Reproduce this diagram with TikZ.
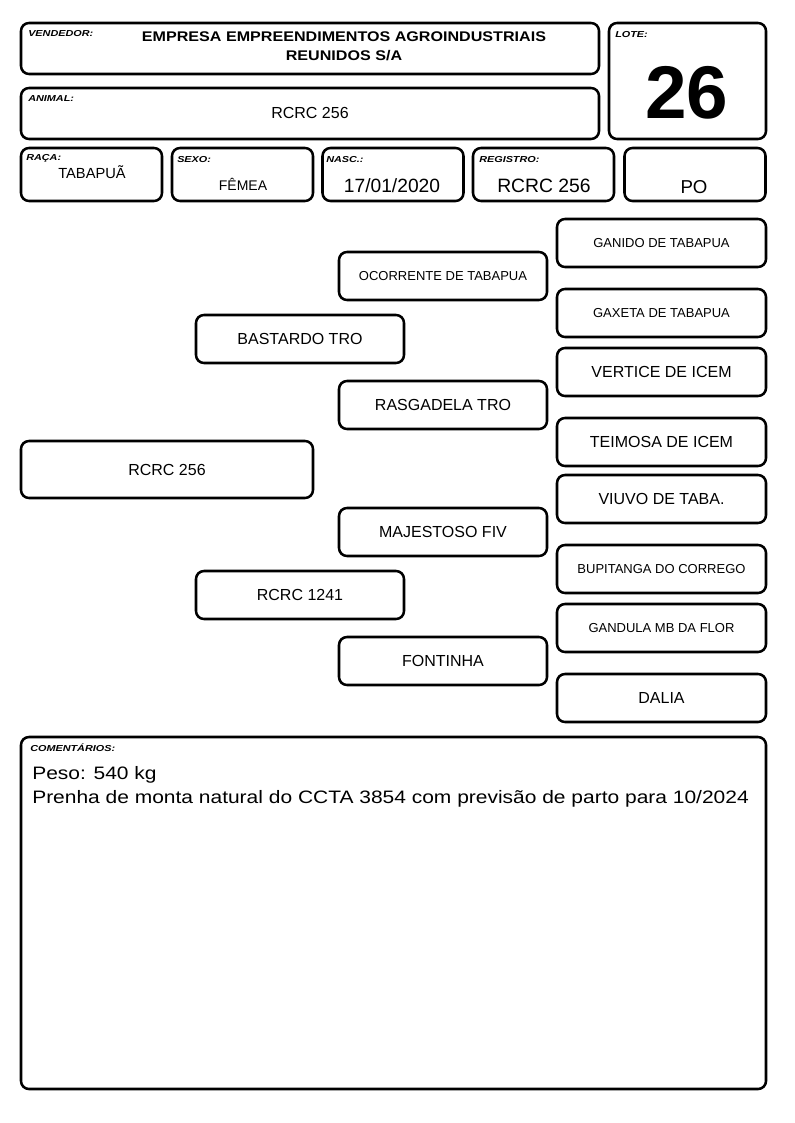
\documentclass[tikz,border=0pt]{standalone}
\usepackage{fontspec}
\setmainfont{Liberation Sans}
\newfontfamily\tagfont[FakeStretch=1.25]{Liberation Sans}
\newfontfamily\widefont[FakeStretch=1.15]{Liberation Sans}
\newfontfamily\notefont[FakeStretch=1.165]{Liberation Sans}
\usepackage{tikz}

\tikzset{
	box/.style={draw, line width=1.9pt, rounded corners=6pt, inner sep=0pt},
	tag/.style={font=\tagfont\fontsize{6.5}{7}\selectfont\bfseries\itshape, inner sep=0pt, anchor=west},
	big/.style={font=\fontsize{12}{14}\selectfont},
	small/.style={font=\fontsize{9.75}{11}\selectfont},
	genone/.style={box, big, minimum width=219pt, minimum height=42.75pt},
	gentwo/.style={box, minimum width=156pt, minimum height=36pt},
	genfour/.style={box, minimum width=156.75pt, minimum height=36pt}
}

\begin{document}
\begin{tikzpicture}[x=0.75pt, y=-0.75pt] % one unit = one pixel, y downwards
	\useasboundingbox (0,0) rectangle (794,1123);
	
	% Header boxes
	\node[box, minimum width=433.5pt, minimum height=38.25pt] (vendedor) at (310,48.5) {};
	\node[box, minimum width=117.75pt, minimum height=87pt] (lote) at (687.5,81) {};
	\node[box, minimum width=433.5pt, minimum height=38.25pt] (animal) at (310,113.5) {};
	\foreach \n/\x in {raca/91.5, sexo/242.5, nasc/393, registro/543.5, po/695}
	\node[box, minimum width=105.75pt, minimum height=39.75pt] (\n) at (\x,174.5) {};
	
	% Labels of the header
	\node[tag] (vendedortag) at (28,34) {VENDEDOR:};
	\node[tag] (lotetag) at (615,35) {LOTE:};
	\node[tag] (animaltag) at (28,99) {ANIMAL:};
	\node[tag] (racatag) at (26,158) {RAÇA:};
	\node[tag] (sexotag) at (177,160) {SEXO:};
	\node[tag] (nasctag) at (326,160) {NASC.:};
	\node[tag] (registrotag) at (479,160) {REGISTRO:};
	
	% Values of the header
	\node[align=center, font=\widefont\fontsize{10.5}{14}\selectfont\bfseries] (vendedortext) at (344,46.5)
	{EMPRESA EMPREENDIMENTOS AGROINDUSTRIAIS\\REUNIDOS S/A};
	\node[font=\fontsize{56}{60}\selectfont\bfseries] (lotetext) at (687,93) {26};
	\node[font=\fontsize{12}{14}\selectfont] (animaltext) at (310,113) {RCRC 256};
	\node[font=\fontsize{11}{12}\selectfont] (racatext) at (92,172) {TABAPUÃ};
	\node[font=\fontsize{10.5}{12}\selectfont] (sexotext) at (243,184) {FÊMEA};
	\node[font=\fontsize{14.4}{16}\selectfont] (nasctext) at (392,186) {17/01/2020};
	\node[font=\fontsize{14.5}{16}\selectfont] (registrotext) at (544,186) {RCRC 256};
	\node[font=\fontsize{14}{16}\selectfont] (potext) at (694,187) {PO};
	
	% Pedigree
	\node[genone] (animalped) at (167,469.5) {RCRC 256};
	\node[gentwo, big] (pai) at (300,339) {BASTARDO TRO};
	\node[gentwo, big] (mae) at (300,595) {RCRC 1241};
	\node[gentwo, small] (avopai) at (443,276) {OCORRENTE DE TABAPUA};
	\node[gentwo, big] (avopaimae) at (443,405) {RASGADELA TRO};
	\node[gentwo, big] (avomaepai) at (443,532) {MAJESTOSO FIV};
	\node[gentwo, big] (avomae) at (443,661) {FONTINHA};
	\foreach \n/\y/\s/\t in {bisa/243/small/GANIDO DE TABAPUA, bisb/313/small/GAXETA DE TABAPUA,
		bisc/372/big/VERTICE DE ICEM, bisd/442/big/TEIMOSA DE ICEM,
		bise/499/big/VIUVO DE TABA., bisf/569/small/BUPITANGA DO CORREGO,
		bisg/628/small/GANDULA MB DA FLOR, bish/698/big/DALIA}
	\node[genfour, \s] (\n) at (661.5,\y) {\t};
	
	% Comments
	\node[box, minimum width=558.75pt, minimum height=264pt] (comentarios) at (393.5,913) {};
	\node[tag] (comentariostag) at (30,748) {COMENTÁRIOS:};
	\node[anchor=base west, inner sep=0pt, font=\notefont\fontsize{13.5}{18}\selectfont] (pesotext) at (32,779) {Peso: 540 kg};
	\node[anchor=base west, inner sep=0pt, font=\notefont\fontsize{13.5}{18}\selectfont] (prenhatext) at (32,803)
	{Prenha de monta natural do CCTA 3854 com previsão de parto para 10/2024};
\end{tikzpicture}
\end{document}
